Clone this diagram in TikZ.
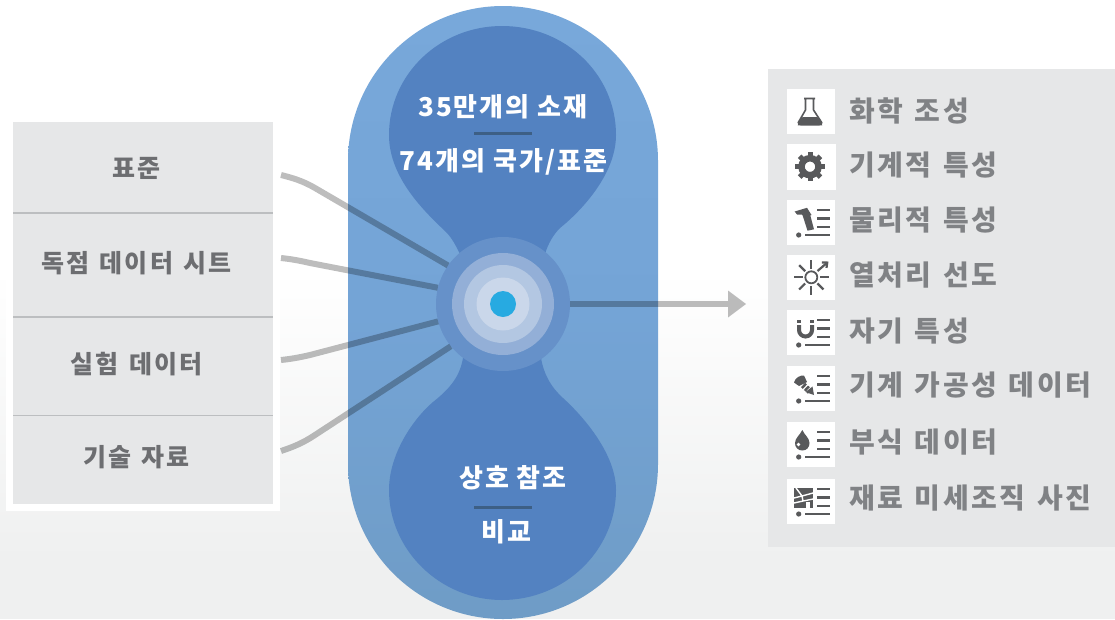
\documentclass[tikz,border=0pt]{standalone}
\usepackage{fontspec}
\usetikzlibrary{arrows.meta,shapes.geometric}
\newfontfamily\krleft[LetterSpace=9]{Noto Sans CJK KR}
\newfontfamily\krfont[LetterSpace=8]{Noto Sans CJK KR}
\newfontfamily\krwide[LetterSpace=9,WordSpace=1.3]{Noto Sans CJK KR}
\definecolor{panelgray}{HTML}{E6E7E8}
\definecolor{sepgray}{HTML}{BCBEC0}
\definecolor{lefttext}{HTML}{6D6E71}
\definecolor{righttext}{HTML}{808285}
\definecolor{capA}{HTML}{78A8DA}
\definecolor{capB}{HTML}{74A4D6}
\definecolor{capC}{HTML}{6F9CC6}
\definecolor{innerblue}{HTML}{5382C1}
\definecolor{ringA}{HTML}{6691C9}
\definecolor{ringB}{HTML}{93AFD7}
\definecolor{ringC}{HTML}{B3C7E2}
\definecolor{ringD}{HTML}{CAD7EA}
\definecolor{dotblue}{HTML}{27AAE1}
\definecolor{divblue}{HTML}{3D5F85}
\definecolor{icondark}{HTML}{58595B}
\definecolor{bgbottom}{HTML}{EFF0F0}
\tikzset{
  x=1pt,y=-1pt,
  lefttxt/.style={font=\krleft\fontsize{25}{28}\bfseries\selectfont,text=lefttext,inner sep=0pt,anchor=center},
  righttxt/.style={font=\krwide\fontsize{28}{30}\bfseries\selectfont,text=righttext,inner sep=0pt,anchor=west},
  whitetxt/.style={font=\krfont\fontsize{26}{28}\bfseries\selectfont,text=white,inner sep=0pt,anchor=center},
  ring/.style={circle,inner sep=0pt,draw=none},
  link/.style={draw=black,opacity=.26,line width=6pt},
  divider/.style={draw=divblue,line width=3pt},
  sepline/.style={draw=sepgray,line width=1.5pt},
  iconbox/.style={fill=white,draw=none},
  ic/.style={draw=icondark,line width=2.5pt},
  icf/.style={fill=icondark,draw=none},
}
\newcommand{\listlines}{%
  \fill[icondark] (11.7,35) circle (2.6pt);
  \draw[ic] (18,35) -- (43,35);
  \draw[ic] (30,10) -- (43,10);
  \draw[ic] (30,18.5) -- (43,18.5);
  \draw[ic] (30,27) -- (43,27);
}
\begin{document}
\begin{tikzpicture}
\useasboundingbox (0,0) rectangle (1115,619);
% background
\fill[white] (0,0) rectangle (1115,619);
\shade[top color=white,bottom color=bgbottom] (0,270) rectangle (1115,560);
\fill[bgbottom] (0,560) rectangle (1115,619);
% left panel
\fill[white] (6,122) rectangle (280,511);
\fill[panelgray] (13,122) rectangle (273,504);
\draw[sepline] (13,213) -- (273,213);
\draw[sepline] (13,317) -- (273,317);
\draw[sepline] (13,415.5) -- (273,415.5);
\node[lefttxt] (l1) at (136.5,168) {표준};
\node[lefttxt] (l2) at (136.5,263) {독점 데이터 시트};
\node[lefttxt] (l3) at (136.5,364) {실험 데이터};
\node[lefttxt] (l4) at (136.5,457) {기술 자료};
% capsule
\shade[top color=capA,bottom color=capC,middle color=capB]
  (348,161) arc[start angle=180,end angle=0,radius=155pt] -- (658,464) arc[start angle=360,end angle=180,radius=155pt] -- cycle;
% inner lobes
\fill[innerblue] (502,26) .. controls (565,26) and (616,74) .. (616,135)
  .. controls (616,175) and (580,212) .. (560,228)
  .. controls (553,235) and (548,244) .. (545,254)
  -- (460,254)
  .. controls (456,246) and (452,238) .. (446,232)
  .. controls (425,212) and (389,178) .. (389,135)
  .. controls (389,74) and (440,26) .. (502,26) -- cycle;
\fill[innerblue] (502,600) .. controls (565,600) and (616,550) .. (616,490)
  .. controls (616,455) and (585,418) .. (563,398)
  .. controls (551,387) and (544,375) .. (541,358)
  -- (463,358)
  .. controls (460,375) and (452,387) .. (433,402)
  .. controls (412,420) and (389,455) .. (389,490)
  .. controls (389,550) and (440,600) .. (502,600) -- cycle;
% hub
\node[ring,fill=ringA,minimum size=134pt] (hub) at (503,304) {};
\node[ring,fill=ringB,minimum size=102pt] (hubb) at (503,304) {};
\node[ring,fill=ringC,minimum size=78pt] (hubc) at (503,304) {};
\node[ring,fill=ringD,minimum size=53pt] (hubd) at (503,304) {};
\node[ring,fill=dotblue,minimum size=26pt] (hube) at (503,304) {};
% connectors
\coordinate (s1) at (281,175);
\coordinate (s2) at (281,258);
\coordinate (s3) at (281,360);
\coordinate (s4) at (281,451);
\coordinate (arrowend) at (746,304);
\draw[link] (s1) .. controls (293,178) and (303,181) .. (315,188) -- (hub.145);
\draw[link] (s2) .. controls (290,259) and (297,260) .. (310,263) -- (hub.166);
\draw[link] (s3) .. controls (290,359) and (297,358) .. (310,355) -- (hub.195);
\draw[link] (s4) .. controls (293,447) and (303,443) .. (315,435) -- (hub.219);
\draw[link,-{Triangle[length=18pt,width=27pt,line width=0pt,sep=0pt]}] (hub.east) -- (arrowend);
% white text
\node[whitetxt] (t1) at (503,107) {35만개의 소재};
\coordinate (d1a) at (474,133.5);
\coordinate (d1b) at (532,133.5);
\draw[divider] (d1a) -- (d1b);
\node[whitetxt] (t2) at (503.5,162) {74개의 국가/표준};
\node[whitetxt] (t3) at (513,478) {상호 참조};
\coordinate (d2a) at (474,507);
\coordinate (d2b) at (532,507);
\draw[divider] (d2a) -- (d2b);
\node[whitetxt] (t4) at (506.5,532) {비교};
% right panel
\fill[panelgray] (768,69) rectangle (1115,547);
\node[righttxt] (r1) at (849,111) {화학 조성};
\node[righttxt] (r2) at (849,165) {기계적 특성};
\node[righttxt] (r3) at (849,220) {물리적 특성};
\node[righttxt] (r4) at (849,275) {열처리 선도};
\node[righttxt] (r5) at (849,331) {자기 특성};
\node[righttxt] (r6) at (849,385) {기계 가공성 데이터};
\node[righttxt] (r7) at (849,442) {부식 데이터};
\node[righttxt] (r8) at (849,498) {재료 미세조직 사진};
% icon 1 flask
\begin{scope}[shift={(787,89)}]
  \fill[iconbox] (0,0) rectangle (48,45);
  \draw[ic,line width=1.6pt,line join=round] (17,9.5) -- (28,9.5) (18.5,9.5) -- (18.5,21) -- (11,34) (26.5,9.5) -- (26.5,21) -- (35,34);
  \fill[icondark,rounded corners=1.5pt] (14.5,28) -- (31.5,28) -- (36,36) -- (34,36.5) -- (12,36.5) -- (10,36) -- cycle;
\end{scope}
% icon 2 gear
\begin{scope}[shift={(787,144)}]
  \fill[iconbox] (0,0) rectangle (49,46);
  \foreach \a in {0,45,...,315}{
    \fill[icondark,rotate around={\a:(23,22.7)}] (20.5,8) rectangle (25.5,14);
  }
  \draw[icondark,line width=6.5pt] (23,22.7) circle (8.5pt);
\end{scope}
% icon 3 hammer
\begin{scope}[shift={(787,200)}]
  \fill[iconbox] (0,0) rectangle (48,45);
  \fill[icf] (7.7,11.5) -- (20,7.8) -- (24.5,15) -- (18,18) -- (15,14.5) -- (10,14.5) -- cycle;
  \fill[icf] (15.5,15) -- (22.5,12.5) -- (27,29.3) -- (20.5,30.7) -- cycle;
  \listlines
\end{scope}
% icon 4 sun
\begin{scope}[shift={(787,255)}]
  \fill[iconbox] (0,0) rectangle (48,45);
  \draw[ic,line width=1.8pt] (24.3,22.3) circle (6pt);
  \foreach \a in {0,90,180,270,135,225,315}{
    \draw[ic,line width=2.2pt,rotate around={\a:(24.3,22.3)}] (33,22.3) -- (41.5,22.3);
  }
  \draw[ic,line width=2.2pt,-{Straight Barb[length=4pt,width=7pt]}] (30.5,16) -- (41.5,6.5);
\end{scope}
% icon 5 magnet
\begin{scope}[shift={(787,310)}]
  \fill[iconbox] (0,0) rectangle (48,45);
  \draw[icondark,line width=4pt] (12,15) -- (12,20) arc[start angle=180,end angle=360,radius=6.5pt] -- (25,15);
  \fill[icf] (10,9.5) rectangle (14,12.5);
  \fill[icf] (23,9.5) rectangle (27,12.5);
  \listlines
\end{scope}
% icon 6 screw
\begin{scope}[shift={(787,366)}]
  \fill[iconbox] (0,0) rectangle (48,45);
  \fill[icf] (7,16.5) .. controls (8,12) and (13,9) .. (17,9.5) -- (20,16) -- (12,20) -- cycle;
  \draw[icondark,line width=6pt,dash pattern=on 2.5pt off 1.5pt] (16,19) -- (23,25.5);
  \fill[icf] (18.5,26) -- (25.5,20.5) -- (27,29) -- cycle;
  \listlines
\end{scope}
% icon 7 drop
\begin{scope}[shift={(787,422)}]
  \fill[iconbox] (0,0) rectangle (48,45);
  \fill[icf] (15.3,8) .. controls (13,13) and (8,16) .. (8,21) .. controls (8,25.5) and (11,28.5) .. (15.3,28.5) .. controls (19.5,28.5) and (22.5,25.5) .. (22.5,21) .. controls (22.5,16) and (17.5,13) .. (15.3,8) -- cycle;
  \fill[white] (11.5,22.5) circle (1.8pt);
  \listlines
\end{scope}
% icon 8 micrograph
\begin{scope}[shift={(787,479)}]
  \fill[iconbox] (0,0) rectangle (48,45);
  \fill[icf] (7,9) rectangle (26,29);
  \draw[white,line width=1.4pt] (9,9) -- (15,17) -- (7,19) (15,17) -- (26,14) (15,17) -- (16,22) -- (7,24) (16,22) -- (26,20);
  \fill[white] (19,23) rectangle (23,29);
  \listlines
\end{scope}
\end{tikzpicture}
\end{document}
